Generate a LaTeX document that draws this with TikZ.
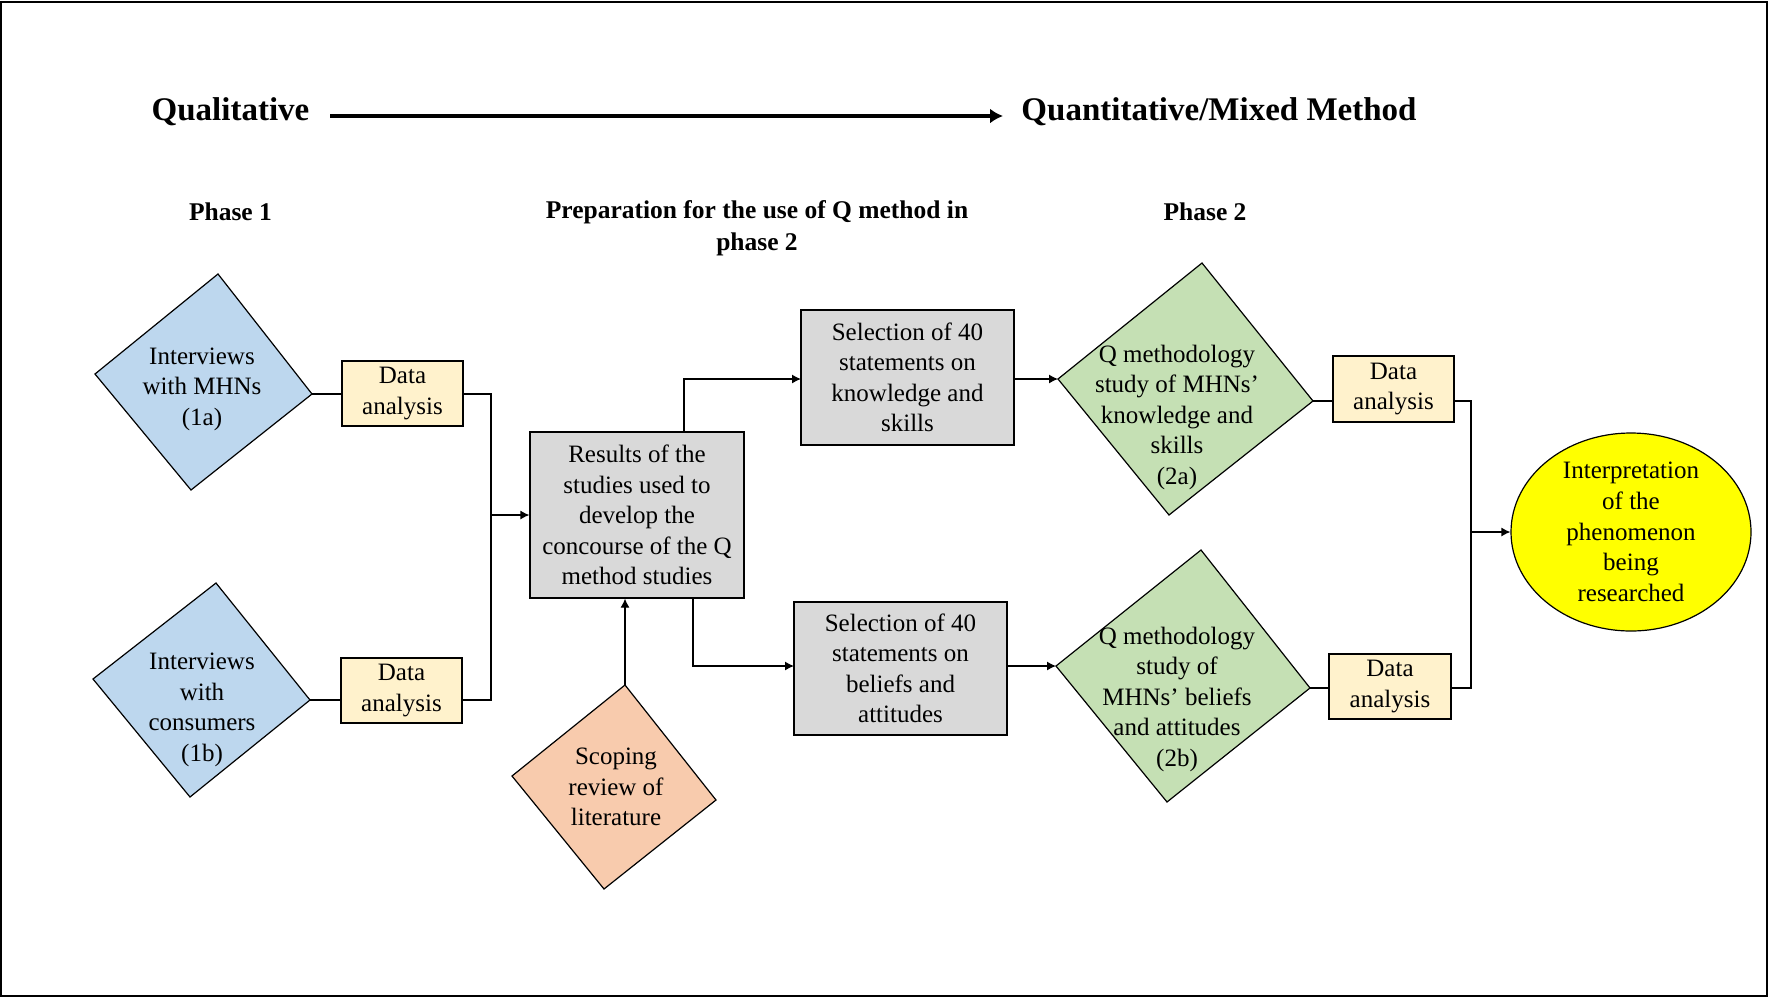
\documentclass[tikz,border=0pt]{standalone}
\usepackage{fontspec}
\setmainfont{Liberation Serif}
\usetikzlibrary{arrows.meta,shapes.geometric}
\definecolor{cblue}{HTML}{BDD7EE}
\definecolor{ccream}{HTML}{FFF2CC}
\definecolor{cgray}{HTML}{D9D9D9}
\definecolor{cgreen}{HTML}{C5E0B4}
\definecolor{cpeach}{HTML}{F8CBAD}
\definecolor{cyell}{HTML}{FFFF00}
\tikzset{
  txt/.style={align=center,inner sep=0pt,font=\fontsize{25}{30.5}\selectfont},
  ttl/.style={inner sep=0pt,font=\fontsize{33}{38}\selectfont\bfseries},
  phs/.style={align=center,inner sep=0pt,font=\fontsize{25.5}{32}\selectfont\bfseries},
  box/.style={draw,line width=1.2pt,align=center,inner sep=0pt,font=\fontsize{25}{30.5}\selectfont},
  dabox/.style={box,fill=ccream,minimum width=121pt,minimum height=65pt},
  selbox/.style={box,fill=cgray,minimum width=213pt,minimum height=134pt},
  dshape/.style={draw,line width=1.2pt,line join=miter},
  conn/.style={line width=1.2pt},
  arr/.style={line width=1.2pt,-{Latex[length=9pt,width=9pt]}},
}
\begin{document}
\begin{tikzpicture}[x=1pt,y=-1pt]
\useasboundingbox (0,0) rectangle (1769,997);
\draw[line width=2pt] (1,2) rectangle (1767,996);

% titles
\node[ttl] (qual) at (230.5,112) {Qualitative};
\node[ttl] (quan) at (1219,112) {Quantitative/Mixed Method};
\coordinate (ta) at (330,116);
\coordinate (tb) at (1003,116);
\draw[line width=4pt,-{Latex[length=13pt,width=15pt]}] (ta) -- (tb);

\node[phs] (ph1) at (230.5,212) {Phase 1};
\node[phs] (prep) at (757,228) {Preparation for the use of Q method in\\phase 2};
\node[phs] (ph2) at (1205,212) {Phase 2};

% diamond 1a
\coordinate (d1aT) at (218,274);
\coordinate (d1aL) at (95,374);
\coordinate (d1aR) at (312,394);
\coordinate (d1aB) at (191,490);
\draw[dshape,fill=cblue] (d1aT) -- (d1aR) -- (d1aB) -- (d1aL) -- cycle;
\node[txt] (t1a) at (202,389) {Interviews\\with MHNs\\(1a)};

% diamond 1b
\coordinate (d1bT) at (216,583);
\coordinate (d1bL) at (93,679);
\coordinate (d1bR) at (310,700);
\coordinate (d1bB) at (190,797);
\draw[dshape,fill=cblue] (d1bT) -- (d1bR) -- (d1bB) -- (d1bL) -- cycle;
\node[txt] (t1b) at (202,710) {Interviews\\with\\consumers\\(1b)};

% scoping diamond
\coordinate (scT) at (625,685);
\coordinate (scL) at (512,776);
\coordinate (scR) at (716,800);
\coordinate (scB) at (604,889);
\draw[dshape,fill=cpeach] (scT) -- (scR) -- (scB) -- (scL) -- cycle;
\node[txt] (tsc) at (616,787) {Scoping\\review of\\literature};

% diamond 2a
\coordinate (d2aT) at (1202,263);
\coordinate (d2aL) at (1058,379);
\coordinate (d2aR) at (1313,401);
\coordinate (d2aB) at (1169,515);
\draw[dshape,fill=cgreen] (d2aT) -- (d2aR) -- (d2aB) -- (d2aL) -- cycle;
\node[txt] (t2a) at (1177,417) {Q methodology\\study of MHNs'\\knowledge and\\skills\\(2a)};

% diamond 2b
\coordinate (d2bT) at (1201,550);
\coordinate (d2bL) at (1056,666);
\coordinate (d2bR) at (1310,688);
\coordinate (d2bB) at (1167,802);
\draw[dshape,fill=cgreen] (d2bT) -- (d2bR) -- (d2bB) -- (d2bL) -- cycle;
\node[txt] (t2b) at (1177,699) {Q methodology\\study of\\MHNs' beliefs\\and attitudes\\(2b)};

% boxes
\node[dabox] (da1) at (402.5,393.5) {Data\\analysis};
\node[dabox] (da2) at (401.5,690.5) {Data\\analysis};
\node[box,fill=cgray,minimum width=214pt,minimum height=166pt] (res) at (637,515)
  {Results of the\\studies used to\\develop the\\concourse of the Q\\method studies};
\node[selbox,minimum height=135pt] (sel1) at (907.5,377.5) {Selection of 40\\statements on\\knowledge and\\skills};
\node[selbox,minimum height=133pt] (sel2) at (900.5,668.5) {Selection of 40\\statements on\\beliefs and\\attitudes};
\node[dabox,minimum height=66pt] (da2a) at (1393.5,389) {Data\\analysis};
\node[dabox,minimum width=122pt] (da2b) at (1390,686.5) {Data\\analysis};
\node[draw,line width=1.2pt,ellipse,fill=cyell,minimum width=240pt,minimum height=172pt,inner sep=0pt,
  align=center,font=\fontsize{25}{30.8}\selectfont] (ell) at (1631,532)
  {Interpretation\\of the\\phenomenon\\being\\researched};

% connectors phase 1
\coordinate (j1) at (491,515);
\draw[conn] (d1aR) -- (d1aR -| da1.west);
\draw[conn] (d1bR) -- (d1bR -| da2.west);
\draw[conn] (da1.east |- d1aR) -| (j1) |- (da2.east |- d1bR);
\draw[arr] (j1) -- (j1 -| res.west);

% preparation connectors
\coordinate (r1) at (684,432);
\coordinate (r2) at (693,598);
\coordinate (s1in) at (801,379);
\coordinate (s2in) at (794,666);
\draw[arr] (r1) |- (s1in);
\draw[arr] (r2) |- (s2in);
\draw[arr] (scT) -- (scT |- res.south);

% phase 2 connectors
\draw[arr] (sel1.east |- d2aL) -- (d2aL);
\draw[arr] (sel2.east |- d2bL) -- (d2bL);
\draw[conn] (d2aR) -- (d2aR -| da2a.west);
\draw[conn] (d2bR) -- (d2bR -| da2b.west);
\coordinate (j2) at (1471,532);
\draw[conn] (da2a.east |- d2aR) -| (j2) |- (da2b.east |- d2bR);
\draw[arr] (j2) -- (j2 -| ell.west);
\end{tikzpicture}
\end{document}
